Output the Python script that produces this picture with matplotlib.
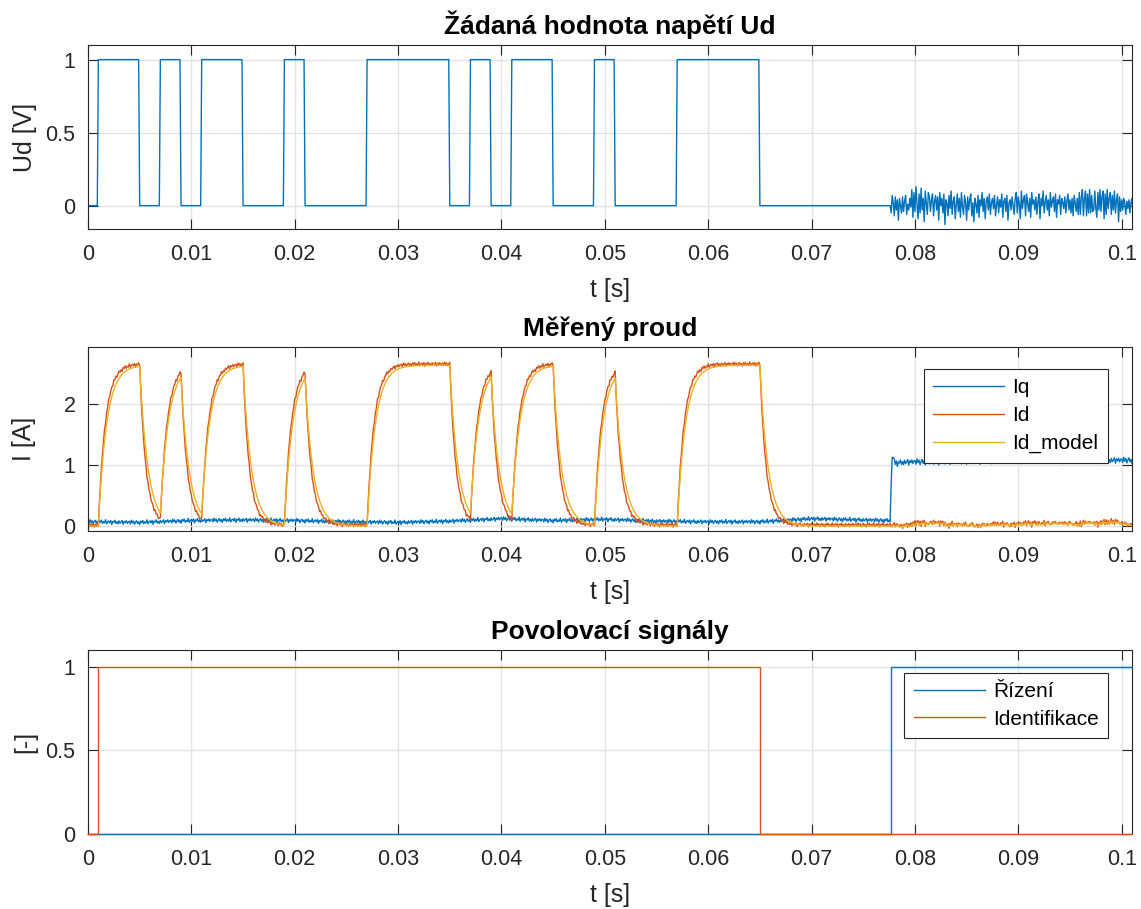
import numpy as np
import matplotlib
matplotlib.use("Agg")
import matplotlib.pyplot as plt
from matplotlib.ticker import FormatStrFormatter

plt.rcParams['font.family'] = ['Liberation Sans', 'DejaVu Sans']

# --- data -----------------------------------------------------------------
dt = 1e-4                      # sample period [s]
t_end = 0.1012
t_view = 0.101                 # shown time range

# Ud reference pulses (start, stop) [s], amplitude 1 V
pulse_on = [0.001, 0.007, 0.011, 0.019, 0.027, 0.037, 0.041, 0.049, 0.057]
pulse_off = [0.005, 0.009, 0.015, 0.021, 0.035, 0.039, 0.045, 0.051, 0.065]

# control enabled from this time on, Ud is then the controller output
t_control = 0.0777
ud_control = [
    -0.05, 0.07, 0.02, -0.07, 0.06, -0.03, 0.04, -0.10, 0.05, 0.00,
    -0.05, 0.06, -0.04, 0.03, 0.07, -0.06, 0.01, -0.03, 0.05, -0.01,
    0.11, -0.08, 0.09, -0.04, 0.13, 0.01, -0.09, 0.08, -0.05, 0.12,
    -0.03, 0.05, -0.11, 0.10, 0.02, -0.06, 0.09, 0.06, -0.04, 0.04,
    0.08, -0.07, 0.03, 0.07, -0.03, 0.06, -0.10, 0.09, 0.00, 0.05,
    -0.05, 0.08, -0.13, 0.04, 0.02, -0.07, 0.07, -0.02, 0.10, -0.06,
    0.03, 0.06, -0.09, 0.01, 0.08, -0.04, 0.05, -0.08, 0.09, -0.01,
    -0.06, 0.07, 0.02, -0.10, 0.06, -0.03, 0.04, 0.08, -0.07, 0.02,
    -0.11, 0.05, 0.01, -0.05, 0.07, -0.08, 0.04, 0.00, 0.09, -0.04,
    0.05, -0.09, 0.03, 0.06, -0.03, 0.08, -0.06, 0.02, 0.05, -0.02,
    0.07, -0.07, 0.01, 0.06, -0.05, 0.04, -0.01, 0.08, -0.08, 0.03,
    0.05, -0.04, 0.07, -0.10, 0.02, 0.04, -0.03, 0.06, 0.00, -0.06,
    0.05, 0.09, -0.05, 0.06, 0.01, -0.09, 0.10, -0.02, 0.04, 0.07,
    -0.07, 0.08, 0.02, -0.04, 0.05, -0.08, 0.09, 0.01, 0.04, -0.03,
    0.06, -0.06, 0.03, 0.08, -0.09, 0.05, 0.00, 0.10, -0.05, 0.02,
    0.07, -0.03, 0.04, -0.07, 0.09, -0.01, 0.03, 0.06, -0.04, 0.08,
    -0.08, 0.04, 0.01, 0.07, -0.06, 0.05, 0.02, -0.02, 0.06, -0.05,
    0.03, 0.08, -0.03, 0.04, -0.05, 0.05, -0.07, 0.07, 0.02, -0.04,
    0.05, -0.06, 0.09, -0.06, 0.06, 0.11, -0.07, 0.05, 0.10, -0.07,
    0.08, -0.05, 0.11, -0.05, 0.07, -0.04, -0.03, 0.10, -0.02, -0.08,
    0.09, -0.03, 0.11, -0.04, 0.06, 0.10, -0.09, 0.08, -0.06, 0.11,
    -0.02, 0.05, 0.09, -0.06, 0.07, -0.03, 0.10, -0.05, 0.04, 0.08,
    -0.11, 0.06, -0.04, 0.04, -0.03, 0.05, 0.02, -0.06, 0.03, -0.02,
    0.04, -0.05, 0.02, 0.05, -0.03, 0.03,
]

# identified d-axis model: I = K / (tau*s + 1) * U
K_model = 2.64
tau_model = 0.8e-3
# measured winding behaves slightly faster
tau_rise = 0.68e-3
tau_fall = 0.6e-3
id_offset = 0.02

# Iq slow drift during identification, then step under control
iq_t = [0, 0.005, 0.01, 0.015, 0.02, 0.025, 0.03, 0.035, 0.04, 0.045,
        0.05, 0.055, 0.06, 0.065, 0.07, 0.075, 0.0776,
        0.0778, 0.0781, 0.079, 0.09, 0.102]
iq_v = [0.07, 0.06, 0.09, 0.10, 0.09, 0.07, 0.06, 0.08, 0.12, 0.09,
        0.11, 0.08, 0.07, 0.07, 0.12, 0.10, 0.09,
        1.17, 1.03, 1.05, 1.08, 1.08]

# current measurement ripple [A]
meas_noise = [0.012, -0.018, 0.025, -0.006, 0.015, -0.022, 0.004, 0.020,
              -0.013, 0.009, -0.025, 0.017, -0.003, 0.022, -0.016, 0.006,
              -0.010, 0.028, -0.020, 0.001, 0.014, -0.008, 0.019, -0.027,
              0.010, -0.002, 0.023, -0.015, 0.007, -0.019, 0.016, -0.011,
              0.003, 0.021, -0.024, 0.011, -0.005, 0.018, -0.012, 0.008]

# enable signals
rizeni_t = [0, t_control, t_view]
rizeni_v = [0, 1, 1]
ident_t = [0, 0.001, 0.065, t_view]
ident_v = [0, 1, 0, 0]

# --- signals --------------------------------------------------------------
n = int(round(t_end / dt)) + 1
t = np.arange(n) * dt
ud = np.zeros(n)
for on, off in zip(pulse_on, pulse_off):
    ud[int(round(on / dt)):int(round(off / dt))] = 1.0
k0 = int(round(t_control / dt))
ud[k0:k0 + len(ud_control)] = ud_control[:n - k0]

id_model = np.zeros(n)
id_meas = np.zeros(n)
a_m = np.exp(-dt / tau_model)
a_r = np.exp(-dt / tau_rise)
a_f = np.exp(-dt / tau_fall)
for k in range(1, n):
    target = K_model * ud[k - 1]
    id_model[k] = a_m * id_model[k - 1] + (1 - a_m) * target
    a = a_r if target > id_meas[k - 1] else a_f
    id_meas[k] = a * id_meas[k - 1] + (1 - a) * target

noise = np.array(meas_noise)
idx = np.arange(n)
id_meas = id_meas + id_offset + 1.3 * noise[(idx + 17) % len(noise)]
iq_gain = np.where(t < t_control, 1.4, 2.0)
iq = np.interp(t, iq_t, iq_v) + iq_gain * noise[idx % len(noise)]

# --- plot -----------------------------------------------------------------
c_blue = '#0072BD'
c_orange = '#D95319'
c_yellow = '#EDB120'
c_text = '#262626'
W, H = 1141, 909

fig = plt.figure(figsize=(W / 100, H / 100), dpi=100)


def make_axes(top, bottom):
    ax = fig.add_axes([88 / W, (H - bottom) / H, 1044 / W, (bottom - top) / H])
    ax.set_xlim(0, t_view)
    ax.set_xticks(np.arange(0, 0.1001, 0.01))
    ax.xaxis.set_major_formatter(FormatStrFormatter('%g'))
    ax.yaxis.set_major_formatter(FormatStrFormatter('%g'))
    ax.grid(True, color='#e3e3e3', linewidth=1.0)
    ax.set_axisbelow(True)
    ax.tick_params(direction='in', top=True, right=True, length=7,
                   width=0.8, color=c_text, labelsize=15.5,
                   labelcolor=c_text, pad=9)
    ax.tick_params(axis='x', pad=11)
    for s in ax.spines.values():
        s.set_color(c_text)
        s.set_linewidth(0.8)
    ax.set_xlabel('t [s]', fontsize=18, color=c_text, labelpad=9)
    return ax


def add_legend(ax, y):
    leg = ax.legend(loc='upper right', bbox_to_anchor=(0.977, y),
                    borderaxespad=0, fontsize=15, handlelength=3.4,
                    handletextpad=0.4, fancybox=False, framealpha=1,
                    edgecolor=c_text, borderpad=0.45, labelspacing=0.42)
    leg.get_frame().set_linewidth(0.8)


ax1 = make_axes(45, 229)
ax1.plot(t, ud, color=c_blue, lw=1.0)
ax1.set_ylim(-0.16, 1.1)
ax1.set_yticks([0, 0.5, 1])
ax1.set_ylabel('Ud [V]', fontsize=18, color=c_text, labelpad=6)
ax1.set_title('Žádaná hodnota napětí Ud', fontsize=19, fontweight='bold', pad=8)

ax2 = make_axes(347, 531)
ax2.plot(t, iq, color=c_blue, lw=1.0, label='Iq')
ax2.plot(t, id_meas, color=c_orange, lw=1.0, label='Id')
ax2.plot(t, id_model, color=c_yellow, lw=1.0, label='Id_model')
ax2.set_ylim(-0.08, 2.94)
ax2.set_yticks([0, 1, 2])
ax2.set_ylabel('I [A]', fontsize=18, color=c_text, labelpad=20)
ax2.set_title('Měřený proud', fontsize=19, fontweight='bold', pad=8)
add_legend(ax2, 0.880)

ax3 = make_axes(650, 834)
# lines sit on the lower spine, keep them on top of it
ax3.plot(rizeni_t, rizeni_v, color=c_blue, lw=1.0, drawstyle='steps-post',
         label='Řízení', clip_on=False, zorder=3)
ax3.plot(ident_t, ident_v, color=c_orange, lw=1.0, drawstyle='steps-post',
         label='Identifikace', clip_on=False, zorder=3)
ax3.set_ylim(0, 1.1)
ax3.set_yticks([0, 0.5, 1])
ax3.set_ylabel('[-]', fontsize=18, color=c_text, labelpad=6)
ax3.set_title('Povolovací signály', fontsize=19, fontweight='bold', pad=8)
add_legend(ax3, 0.877)

fig.savefig('out.png', dpi=100)
